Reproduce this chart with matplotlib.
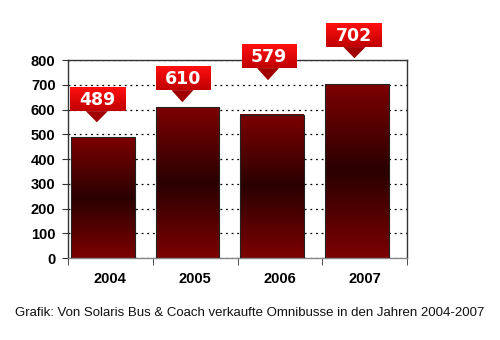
import numpy as np
import matplotlib.pyplot as plt
from matplotlib.colors import LinearSegmentedColormap
from matplotlib.patches import Polygon

plt.rcParams['font.family'] = ['Liberation Sans', 'DejaVu Sans']

years = ['2004', '2005', '2006', '2007']
sales = [489, 610, 579, 702]
# callout boxes: (left, right, bottom, top, tip_x, tip_y) in data units
callouts = [(-0.48, 0.17, 594, 687, -0.16, 549),
            (0.54, 1.18, 679, 776, 0.85, 630),
            (1.55, 2.19, 768, 865, 1.86, 719),
            (2.55, 3.20, 853, 949, 2.88, 808)]

fig = plt.figure(figsize=(5, 3.4), dpi=100)
ax = fig.add_axes([0.136, 0.241, 0.678, 0.582])

bar_cmap = LinearSegmentedColormap.from_list(
    'bar', [(0, '#7d0000'), (0.5, '#2a0000'), (1, '#7d0000')])
box_cmap = LinearSegmentedColormap.from_list('box', ['#c00000', '#ff1010'])

w = 0.75
off = -0.09
grad = np.linspace(0, 1, 256).reshape(-1, 1)
for i, v in enumerate(sales):
    x0 = i + off - w / 2
    ax.imshow(grad, cmap=bar_cmap, origin='lower', aspect='auto',
              extent=(x0, x0 + w, 0, v), zorder=2)
    ax.add_patch(plt.Rectangle((x0, 0), w, v, fill=False,
                               edgecolor='#222222', lw=0.8, zorder=3))

for (l, r, b, t, tx, ty), v in zip(callouts, sales):
    ax.imshow(grad, cmap=box_cmap, origin='lower', aspect='auto',
              extent=(l, r, b, t), zorder=4, clip_on=False)
    ax.add_patch(Polygon([(tx - 0.13, b), (tx + 0.13, b), (tx, ty)],
                         closed=True, facecolor='#a00000', edgecolor='none',
                         zorder=4, clip_on=False))
    ax.text((l + r) / 2, (b + t) / 2 - 2, str(v), color='white',
            fontsize=12.5, fontweight='bold', family='DejaVu Sans',
            ha='center', va='center', zorder=5)

ax.set_xlim(-0.5, 3.5)
ax.set_ylim(0, 800)
ax.set_yticks(range(0, 801, 100))
ax.set_yticklabels([str(t) for t in range(0, 801, 100)],
                   fontsize=10.5, fontweight='bold')
ax.set_xticks(range(4))
ax.set_xticklabels(years, fontsize=10.5, fontweight='bold')
ax.set_xticks([-0.5, 0.5, 1.5, 2.5, 3.5], minor=True)
ax.tick_params(axis='x', which='major', length=0, pad=10)
ax.tick_params(axis='x', which='minor', length=5, direction='out',
               color='#333333')
ax.tick_params(axis='y', length=4, direction='out', color='#333333', pad=5)
ax.yaxis.grid(True, linestyle=(0, (1.5, 3)), color='black', lw=0.9)
ax.set_axisbelow(True)
for s in ax.spines.values():
    s.set_color('#333333')
    s.set_linewidth(1)
ax.spines['bottom'].set_color('#888888')

fig.text(0.5, 0.08, 'Grafik: Von Solaris Bus & Coach verkaufte Omnibusse in den Jahren 2004-2007',
         ha='center', va='center', fontsize=9.5, color='#111111')

fig.savefig('out.png', dpi=100)
